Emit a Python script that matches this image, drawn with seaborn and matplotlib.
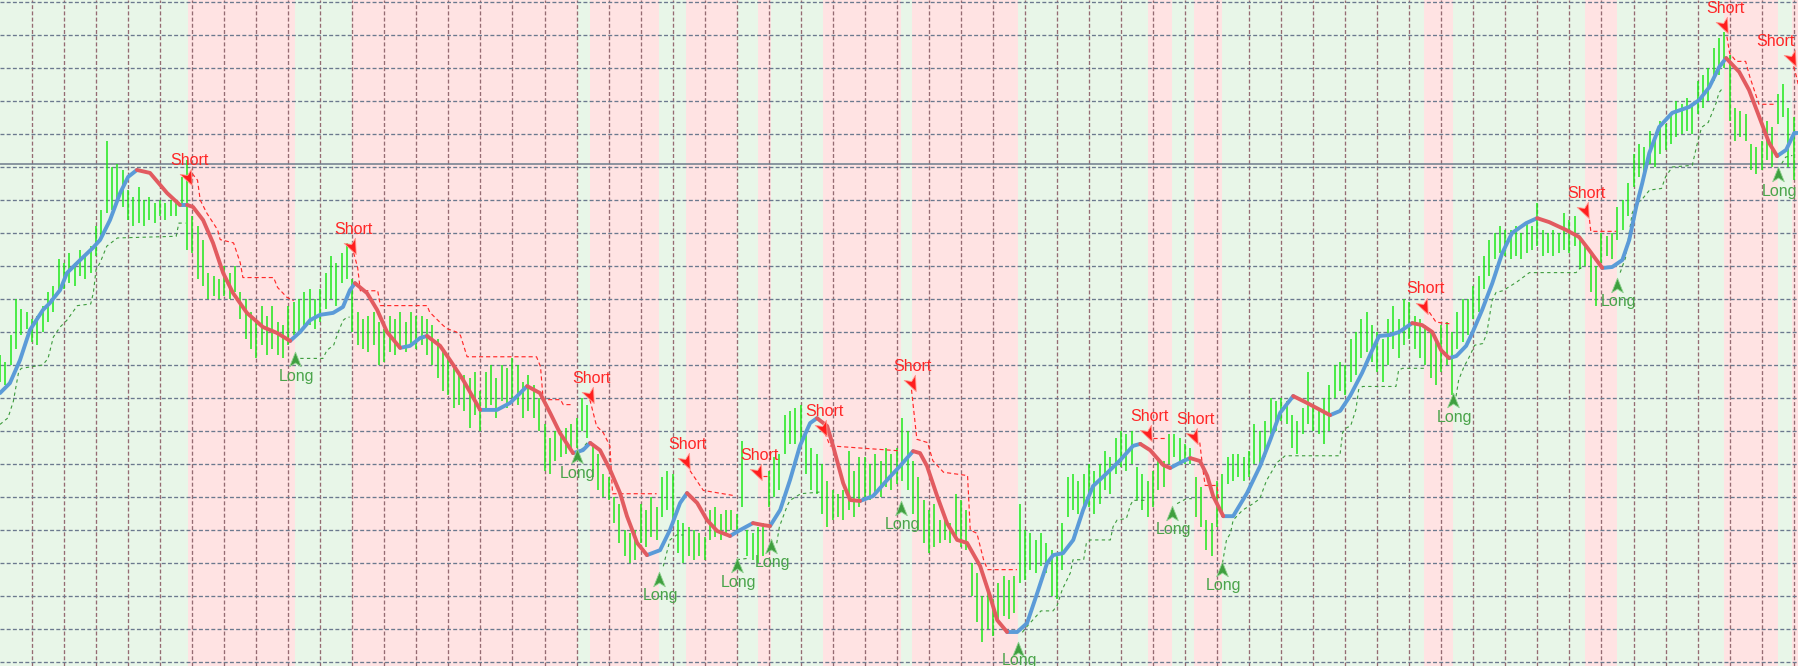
import numpy as np
import pandas as pd
import matplotlib
matplotlib.use("Agg")
import matplotlib.pyplot as plt
from matplotlib.path import Path
import seaborn as sns

# AUDUSD H1 chart: time in hours, price in pips above 0.7300

bar_hours = np.arange(0, 674, 2)
bar_low = [
    85, 84, 90, 95, 99, 101, 97, 96, 100, 103,
    106, 112, 113, 115, 114, 117, 116, 118, 123, 128,
    136, 137, 139, 138, 134, 132, 133, 132, 134, 133,
    135, 134, 135, 135, 138, 125, 124, 116, 114, 110,
    111, 110, 111, 110, 112, 104, 98, 95, 92, 96,
    93, 95, 93, 92, 96, 99, 100, 101, 102, 101,
    103, 107, 110, 108, 115, 116, 100, 96, 95, 94,
    96, 90, 91, 94, 93, 95, 94, 96, 95, 96,
    93, 90, 86, 82, 81, 77, 78, 76, 71, 75,
    70, 76, 78, 74, 79, 77, 80, 78, 74, 76,
    74, 70, 58, 57, 61, 62, 63, 64, 65, 70,
    68, 56, 52, 50, 49, 42, 36, 32, 30, 31,
    36, 35, 38, 37, 44, 46, 43, 33, 30, 32,
    31, 32, 31, 37, 38, 37, 39, 40, 39, 47,
    32, 31, 30, 32, 47, 50, 52, 63, 66, 66,
    67, 57, 52, 51, 45, 41, 43, 44, 43, 46,
    44, 47, 50, 49, 51, 50, 53, 52, 54, 55,
    52, 45, 40, 36, 33, 35, 36, 37, 36, 37,
    35, 34, 20, 12, 6, 10, 8, 13, 14, 13,
    15, 24, 25, 28, 27, 29, 27, 20, 19, 28,
    44, 46, 45, 47, 47, 45, 48, 52, 51, 57,
    59, 58, 60, 49, 46, 44, 47, 52, 53, 60,
    62, 61, 60, 60, 44, 41, 34, 32, 41, 44,
    54, 55, 56, 55, 56, 60, 59, 62, 69, 70,
    73, 72, 65, 63, 69, 72, 70, 69, 66, 70,
    80, 82, 81, 85, 87, 92, 94, 91, 88, 85,
    90, 95, 92, 96, 98, 95, 92, 90, 86, 84,
    88, 90, 81, 95, 97, 99, 104, 106, 113, 117,
    122, 124, 123, 122, 123, 122, 124, 125, 126, 123,
    124, 123, 124, 125, 124, 126, 119, 120, 112, 108,
    121, 123, 122, 128, 131, 135, 144, 147, 148, 151,
    150, 154, 155, 157, 159, 160, 161, 160, 166, 168,
    170, 176, 178, 180, 164, 158, 159, 158, 149, 148,
    149, 152, 150, 163, 165, 150, 146,
]
bar_high = [
    93, 91, 99, 110, 107, 106, 104, 105, 108, 112,
    114, 122, 121, 124, 121, 125, 123, 126, 132, 137,
    158, 150, 151, 149, 143, 141, 144, 140, 141, 139,
    140, 139, 140, 140, 147, 152, 135, 132, 128, 118,
    117, 116, 120, 118, 120, 112, 110, 106, 103, 108,
    105, 108, 103, 102, 108, 109, 110, 112, 113, 110,
    113, 118, 123, 121, 124, 127, 116, 106, 104, 105,
    106, 103, 101, 105, 104, 106, 103, 106, 105, 105,
    104, 102, 98, 95, 92, 89, 88, 87, 86, 88,
    82, 88, 90, 86, 90, 89, 92, 90, 85, 87,
    84, 80, 72, 68, 70, 70, 71, 72, 74, 80,
    78, 66, 63, 57, 56, 50, 48, 40, 39, 40,
    48, 46, 50, 47, 56, 58, 57, 43, 42, 41,
    40, 39, 38, 46, 47, 45, 46, 46, 45, 67,
    40, 39, 41, 42, 58, 62, 63, 75, 76, 77,
    78, 69, 65, 63, 60, 55, 52, 51, 52, 64,
    58, 62, 62, 60, 63, 61, 65, 63, 65, 74,
    70, 61, 56, 49, 46, 48, 43, 43, 42, 51,
    49, 46, 30, 27, 20, 22, 19, 24, 26, 25,
    26, 48, 40, 39, 37, 39, 36, 34, 32, 42,
    56, 57, 55, 57, 60, 58, 60, 64, 62, 68,
    70, 69, 70, 59, 57, 55, 58, 61, 61, 69,
    69, 68, 66, 65, 56, 53, 43, 42, 55, 57,
    62, 63, 63, 62, 64, 72, 70, 73, 80, 79,
    80, 79, 75, 73, 77, 88, 78, 77, 80, 84,
    90, 91, 90, 98, 100, 104, 106, 102, 100, 98,
    104, 108, 104, 110, 109, 105, 104, 102, 100, 98,
    102, 103, 100, 106, 110, 110, 114, 117, 123, 128,
    130, 132, 131, 131, 132, 130, 133, 132, 139, 131,
    130, 131, 130, 136, 134, 135, 128, 127, 124, 120,
    130, 129, 130, 138, 140, 145, 154, 157, 156, 161,
    159, 164, 163, 166, 170, 169, 171, 169, 176, 178,
    180, 186, 189, 191, 184, 168, 167, 166, 157, 156,
    158, 164, 162, 172, 175, 168, 165,
]

# smoothed trend line
ma_hours = [
    0, 3.7, 7.5, 11.2, 16.1, 18.7, 22.5, 25.1, 30.0, 34.8,
    37.5, 41.2, 45.0, 48.0, 51.3, 56.2, 62.6, 67.4, 70.1, 72.3,
    76.1, 79.8, 83.6, 87.3, 92.5, 98.5, 103.8, 108.7, 112.4, 116.2,
    119.9, 124.8, 128.5, 131.1, 133.0, 137.5, 141.3, 145.0, 149.9, 153.6,
    157.4, 160.0, 164.9, 168.6, 173.5, 179.9, 186.2, 191.1, 197.5, 202.3,
    206.1, 209.8, 214.7, 218.4, 221.1, 224.8, 228.6, 232.3, 234.9, 238.7,
    242.4, 247.3, 251.0, 254.8, 257.4, 261.2, 264.9, 268.7, 273.5, 277.3,
    282.1, 285.9, 288.5, 292.3, 296.0, 299.7, 303.5, 306.1, 309.9, 312.1,
    315.9, 318.5, 322.2, 327.1, 332.4, 337.2, 342.1, 344.7, 347.3, 351.1,
    354.8, 358.6, 362.3, 367.2, 370.9, 373.6, 377.3, 381.1, 384.8, 388.6,
    392.3, 394.6, 398.3, 402.1, 405.8, 409.5, 414.8, 419.7, 424.5, 427.2,
    430.9, 435.8, 438.4, 443.3, 445.9, 449.6, 452.3, 454.5, 458.3, 462.0,
    467.2, 472.1, 475.9, 479.6, 484.5, 489.7, 494.6, 498.3, 502.1, 505.8,
    510.3, 514.1, 516.7, 520.8, 524.2, 529.1, 532.8, 536.6, 539.9, 542.9,
    545.6, 549.3, 551.6, 555.3, 559.1, 562.8, 566.5, 571.8, 575.9, 580.4,
    586.8, 591.6, 595.4, 600.3, 604.0, 607.8, 610.4, 613.0, 615.3, 617.9,
    621.6, 626.5, 632.9, 636.6, 640.4, 644.1, 646.7, 651.6, 655.3, 659.1,
    662.8, 665.8, 669.2, 672.2, 674.1,
]
ma_pips = [
    81.5, 84.5, 91.5, 100.6, 106.7, 108.8, 112.7, 117.9, 121.8, 125.5,
    127.9, 133.9, 142.1, 147.0, 149.1, 148.2, 142.1, 138.5, 138.5, 137.9,
    133.9, 127.0, 117.9, 111.8, 105.8, 101.5, 99.7, 97.3, 100.0, 103.6,
    105.2, 105.8, 107.6, 112.7, 114.8, 111.8, 106.7, 100.0, 95.2, 95.8,
    98.2, 98.8, 95.8, 91.5, 85.5, 76.4, 76.4, 78.5, 83.6, 81.5,
    75.5, 69.4, 63.3, 64.2, 66.4, 64.2, 58.2, 51.2, 44.2, 36.1,
    32.4, 33.9, 40.0, 48.2, 51.2, 48.2, 43.0, 39.7, 38.2, 40.0,
    42.1, 41.5, 41.2, 46.1, 55.2, 65.5, 72.4, 73.9, 71.5, 65.5,
    54.2, 49.1, 48.8, 50.3, 55.2, 59.4, 63.9, 63.3, 59.4, 50.3,
    42.1, 37.0, 36.1, 29.1, 20.0, 12.7, 9.1, 9.1, 11.8, 20.9,
    30.0, 32.4, 33.0, 37.0, 46.1, 53.3, 57.3, 61.2, 65.5, 66.1,
    64.2, 59.7, 58.8, 60.9, 61.8, 60.9, 56.4, 50.3, 44.2, 44.2,
    51.2, 59.4, 67.3, 75.5, 80.6, 78.5, 76.4, 74.8, 76.1, 80.6,
    87.6, 94.5, 98.8, 99.1, 100.0, 102.7, 102.1, 100.0, 94.5, 92.1,
    92.7, 95.8, 99.7, 106.7, 114.8, 123.9, 130.0, 133.0, 134.5, 133.3,
    130.9, 128.8, 124.8, 119.4, 119.7, 121.8, 127.9, 137.9, 145.2, 154.2,
    162.1, 166.4, 168.2, 170.3, 174.2, 180.3, 183.0, 178.8, 173.3, 165.2,
    157.3, 153.3, 155.2, 160.3, 160.3,
]

signal_hours = [70.5, 110.5, 132, 216, 221, 247, 257, 276, 284, 289,
                308.5, 337.5, 341.5, 381.5, 430, 439, 447.5, 458, 533.5, 544.5,
                594, 606, 646, 666, 671.5]
signal_pips = [147, 91.5, 126, 62, 81, 25, 61, 29, 57.5, 35,
               71, 46.5, 84.5, 3.5, 69.5, 45, 68.5, 28, 108, 79,
               137, 114, 193, 147.5, 183]
signal_side = ["Short", "Long"] * 12 + ["Short"]

# trailing stops, one list per trade
long_stop_hours = [
    [0, 3, 5, 7, 8, 16, 18, 20, 22.5, 25, 29, 34, 35, 36, 37.5, 40, 44, 66, 67, 69.5],
    [112.5, 121, 122.5, 125, 126.5, 128.5, 130, 131],
    [216, 220],
    [248.5, 251, 253.5, 256],
    [276, 281],
    [291, 292, 295, 296, 300, 307],
    [383, 385, 390, 394.5, 396, 398, 401, 402, 406, 407, 408.5, 416, 417, 418.5, 422, 423.5, 424.5, 429.5],
    [441, 444.5, 446.5],
    [458, 459.5, 461, 462, 465.5, 469.5, 472, 474.5, 478.5, 481.5, 502, 503, 504.5, 506, 508, 509, 510.5,
     523, 524, 525.5, 533.5],
    [545.5, 546.5, 548.5, 550.5, 552.5, 555.5, 557, 558, 559, 560.5, 563, 568, 573, 590.5, 591.5, 592.5],
    [607, 609, 611.5, 613, 615, 618, 622.5, 624, 626.5, 634, 636, 637.5, 640, 643, 644, 645],
    [667.5, 669, 671.5],
]
long_stop_pips = [
    [72, 74, 79, 88, 89, 90, 92, 98.5, 101.5, 103.5, 108, 108.5, 112, 119, 121, 126, 128.5, 129, 133, 133],
    [92, 92, 94.5, 96, 99.5, 103.5, 104.5, 104.5],
    [62.5, 66.5],
    [29, 37, 38.5, 38.5],
    [31, 31.5],
    [36, 41, 47.5, 49, 51, 51.5],
    [9, 11, 15.5, 15.5, 17, 22, 27, 31, 31, 36, 37, 37, 41, 43, 43.5, 47.5, 49, 49],
    [48, 49.5, 49.5],
    [30, 37, 39, 43, 46, 48, 49.5, 55, 60.5, 62.5, 62.5, 69.5, 71, 71.5, 76.5, 82.5, 83.5,
     83.5, 88.5, 89, 89],
    [80.5, 85.5, 89.5, 92.5, 96, 96.5, 99.5, 104.5, 109.5, 112, 112.5, 115, 118, 118, 119, 119.5],
    [118, 122.5, 136, 139, 140, 143, 143.5, 147, 150, 150.5, 157.5, 162, 163.5, 169.5, 172.5, 173.5],
    [151, 153, 153.5],
]
short_stop_hours = [
    [72, 74, 75, 77.5, 81.5, 82.5, 87.5, 90, 91, 102.5, 104, 107.5, 110],
    [132.5, 134, 135, 141.5, 142.5, 160, 161, 166, 167.5, 171, 172.5, 175, 201, 202.5, 203.5, 210, 211, 214.5],
    [221, 223.5, 226, 228.5, 229.5, 246],
    [258.5, 261, 263.5, 274.5],
    [286, 287.5],
    [309, 311, 337],
    [341.5, 343.5, 347.5, 349.5, 353.5, 362.5, 363.5, 366, 368.5, 370, 381],
    [432, 437],
    [449.5, 450.5, 451.5, 456, 456.5],
    [535.5, 538, 543],
    [595.5, 596, 605.5],
    [647, 648, 650.5, 654, 655.5, 659, 665.5],
    [672, 673, 674],
]
short_stop_pips = [
    [148, 146, 140, 136, 131, 128, 127, 121, 116.5, 116.5, 113.5, 110.5, 109.5],
    [124, 119.5, 112.5, 112.5, 108, 108, 106, 102, 101, 100, 99, 92.5, 92.5, 89.5, 79.5, 79.5, 78, 78],
    [79.5, 71.5, 69.5, 65.5, 51, 51],
    [58, 55, 52, 50.5],
    [56.5, 56.5],
    [69.5, 65.5, 64],
    [82.5, 67.5, 66.5, 61, 57.5, 56.5, 40, 39, 31, 28, 28],
    [68, 68],
    [66.5, 59.5, 53.5, 53.5, 49],
    [106, 103, 102.5],
    [134, 130.5, 130.5],
    [189.5, 184.5, 182, 182, 177.5, 169, 169],
    [180.5, 177.5, 174],
]

last_price = 150.8


def stop_frame(hours, pips):
    rows = []
    for k, (hs, ps) in enumerate(zip(hours, pips)):
        for h, p in zip(hs, ps):
            rows.append((k, h, p))
    return pd.DataFrame(rows, columns=["seg", "hour", "pips"])


def main():
    sns.set_style("white")
    plt.rcParams["font.family"] = ["Liberation Sans", "DejaVu Sans"]

    fig = plt.figure(figsize=(17.99, 6.66), dpi=100)
    ax = fig.add_axes([0, 0, 1, 1])
    ax.set_facecolor("#e8f6e8")

    # short regimes shaded pink
    for i, side in enumerate(signal_side):
        if side == "Short":
            end = signal_hours[i + 1] if i + 1 < len(signal_hours) else 680
            ax.axvspan(signal_hours[i], end, color="#ffe3e3", lw=0, zorder=0.1)

    # grid
    ax.set_xticks(np.arange(12, 674, 12))
    ax.set_yticks(np.arange(0, 201, 10))
    ax.set_axisbelow(True)
    ax.xaxis.grid(True, color="#956b72", lw=0.95, ls=(0, (3, 1.7)))
    ax.yaxis.grid(True, color="#6b798e", lw=0.95, ls=(0, (3, 1.7)))
    ax.tick_params(length=0, labelbottom=False, labelleft=False)
    for s in ax.spines.values():
        s.set_visible(False)

    ax.axhline(last_price, color="#6f7c8c", lw=1.1, zorder=1)

    # price bars
    ax.vlines(bar_hours, bar_low, bar_high, colors="#1ee81a", lw=1.1, zorder=2)

    # trailing stops
    ls_df = stop_frame(long_stop_hours, long_stop_pips)
    ss_df = stop_frame(short_stop_hours, short_stop_pips)
    sns.lineplot(data=ls_df, x="hour", y="pips", units="seg", estimator=None, sort=False,
                 color="#3d9b3d", lw=0.8, ls=(0, (3, 3)), ax=ax, zorder=3)
    sns.lineplot(data=ss_df, x="hour", y="pips", units="seg", estimator=None, sort=False,
                 color="#ff2a2a", lw=0.85, ls=(0, (3.5, 2.5)), ax=ax, zorder=3)

    # smoothed line, blue when rising and red when falling
    ma = np.array(ma_pips)
    up = np.diff(ma) >= 0
    rows = []
    run = 0
    for i in range(len(up)):
        if i > 0 and up[i] != up[i - 1]:
            run += 1
        trend = "up" if up[i] else "down"
        rows.append((run, trend, ma_hours[i], ma[i]))
        rows.append((run, trend, ma_hours[i + 1], ma[i + 1]))
    ma_df = pd.DataFrame(rows, columns=["run", "trend", "hour", "pips"]).drop_duplicates()
    sns.lineplot(data=ma_df, x="hour", y="pips", units="run", estimator=None, sort=False,
                 hue="trend", palette={"up": "#5b9bd8", "down": "#e25b60"},
                 lw=2.8, legend=False, ax=ax, zorder=4, solid_capstyle="round",
                 solid_joinstyle="round")

    # signal arrows and labels
    short_arrow = Path([(0.42, -0.91), (-0.94, 0.35), (-0.1, 0.23), (0.34, 0.93), (0.42, -0.91)],
                       [Path.MOVETO, Path.LINETO, Path.LINETO, Path.LINETO, Path.CLOSEPOLY])
    long_arrow = Path([(0, 1), (0.7, -0.75), (0, -0.3), (-0.7, -0.75), (0, 1)],
                      [Path.MOVETO, Path.LINETO, Path.LINETO, Path.LINETO, Path.CLOSEPOLY])
    for h, p, side in zip(signal_hours, signal_pips, signal_side):
        if side == "Short":
            ax.plot([h], [p], marker=short_arrow, ms=12, mfc="#ff1e1e", mec="#ff9a90",
                    mew=0.6, zorder=6)
            # keep the label inside the right edge
            dx = -12 if h > 668 else 1
            ax.annotate("Short", (h, p), xytext=(dx, 12), textcoords="offset points",
                        ha="center", va="center", fontsize=11.5, color="#ff2626", zorder=7)
        else:
            ax.plot([h], [p], marker=long_arrow, ms=12, mfc="#3f9f3f", mec="#8fd08f",
                    mew=0.6, zorder=6)
            # keep the label inside the bottom edge
            dy = -7 if p < 6 else -11.5
            ax.annotate("Long", (h, p), xytext=(1, dy), textcoords="offset points",
                        ha="center", va="center", fontsize=11.5, color="#4aa44a", zorder=7)

    ax.set_xlim(0, 674)
    ax.set_ylim(-1.2, 200.6)
    ax.set_xlabel("")
    ax.set_ylabel("")

    fig.savefig("out.png", dpi=100)
    plt.close(fig)


if __name__ == "__main__":
    main()
